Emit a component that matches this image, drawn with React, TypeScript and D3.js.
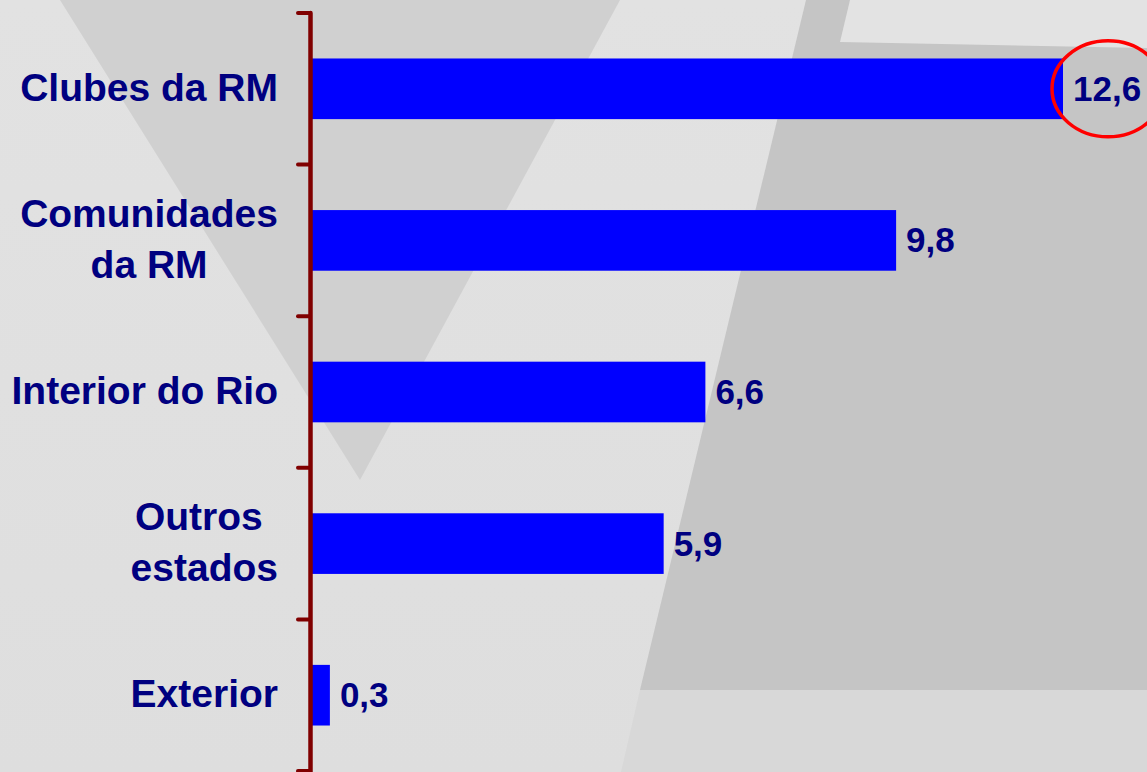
import React, { useEffect, useRef } from "react";
import * as d3 from "d3";

const categories = ["Clubes da RM", "Comunidades da RM", "Interior do Rio", "Outros estados", "Exterior"];
const labelLines = [["Clubes da RM"], ["Comunidades", "da RM"], ["Interior do Rio"], ["Outros ", "estados"], ["Exterior"]];
const values = [12.6, 9.8, 6.6, 5.9, 0.3];
const highlighted = ["Clubes da RM"];

const W = 1147;
const H = 772;

export default function App() {
  const ref = useRef<SVGSVGElement | null>(null);

  useEffect(() => {
    document.body.style.margin = "0";
    const svg = d3.select(ref.current);
    svg.selectAll("*").remove();

    // background
    const defs = svg.append("defs");
    const g1 = defs.append("linearGradient").attr("id", "bgGrad").attr("x1", 0).attr("y1", 0).attr("x2", 0).attr("y2", 1);
    g1.append("stop").attr("offset", "0%").attr("stop-color", "#e2e2e2");
    g1.append("stop").attr("offset", "100%").attr("stop-color", "#dedede");
    svg.append("rect").attr("width", W).attr("height", H).attr("fill", "url(#bgGrad)");
    const bg = svg.append("g");
    bg.append("polygon").attr("points", "60,0 620,0 360,480").attr("fill", "#d0d0d0");
    bg.append("polygon").attr("points", "806,0 1147,0 1147,690 640,690").attr("fill", "#c5c5c5");
    bg.append("polygon").attr("points", "640,690 1147,690 1147,772 621,772").attr("fill", "#d8d8d8");
    bg.append("polygon").attr("points", "850,0 1147,0 1147,48 840,42").attr("fill", "#e3e3e3");

    const x = d3.scaleLinear().domain([0, 12.6]).range([312, 1063]);
    const y = d3.scaleBand<string>().domain(categories).range([13, 771]).paddingInner(0.6).paddingOuter(0.3);
    const step = y.step();
    const top = 13;

    const locale = d3.formatLocale({ decimal: ",", thousands: ".", grouping: [3], currency: ["R$", ""] });
    const fmt = locale.format(".1f");

    // bars
    svg.append("g").selectAll("rect").data(categories).join("rect")
      .attr("x", x(0))
      .attr("y", (d) => y(d)!)
      .attr("width", (d, i) => x(values[i]) - x(0))
      .attr("height", y.bandwidth())
      .attr("fill", "#0000ff");

    // axis
    const axis = svg.append("g").attr("stroke", "#800000").attr("stroke-linecap", "round");
    axis.append("line").attr("x1", 310.5).attr("x2", 310.5).attr("y1", top).attr("y2", H + 5).attr("stroke-width", 4.5);
    d3.range(categories.length + 1).forEach((i) => {
      axis.append("line").attr("x1", 298).attr("x2", 310).attr("y1", top + i * step).attr("y2", top + i * step).attr("stroke-width", 4);
    });

    // value labels
    svg.append("g").selectAll("text").data(categories).join("text")
      .attr("x", (d, i) => x(values[i]) + 10)
      .attr("y", (d) => y(d)! + y.bandwidth() / 2 + 12)
      .attr("font-family", "'Liberation Sans', Arial, sans-serif")
      .attr("font-weight", "bold")
      .attr("font-size", 35)
      .attr("fill", "#000080")
      .text((d, i) => fmt(values[i]));

    // category labels
    const lg = svg.append("g");
    const rightEdge = 278;
    const lineH = 51;
    categories.forEach((c, i) => {
      const lines = labelLines[i];
      const cy = y(c)! + y.bandwidth() / 2;
      const texts = lines.map((ln, j) =>
        lg.append("text")
          .attr("y", cy + 12 + (j - (lines.length - 1) / 2) * lineH)
          .attr("font-family", "'Liberation Sans', Arial, sans-serif")
          .attr("font-weight", "bold")
          .attr("font-size", 39)
          .attr("fill", "#000080")
          .attr("text-anchor", "middle")
          .style("white-space", "pre")
          .text(ln)
      );
      const widths = texts.map((t) => (t.node() as SVGTextElement).getComputedTextLength());
      const maxW = Math.max(...widths);
      texts.forEach((t) => t.attr("x", rightEdge - maxW / 2));
    });

    // highlight ellipse
    svg.append("g").selectAll("ellipse").data(highlighted).join("ellipse")
      .attr("cx", (d) => x(values[categories.indexOf(d)]) + 45)
      .attr("cy", (d) => y(d)! + y.bandwidth() / 2)
      .attr("rx", 56)
      .attr("ry", 48)
      .attr("fill", "none")
      .attr("stroke", "#ff0000")
      .attr("stroke-width", 3.5);
  }, []);

  return <svg ref={ref} width={W} height={H} style={{ position: "absolute", left: 0, top: 0, display: "block" }} />;
}
